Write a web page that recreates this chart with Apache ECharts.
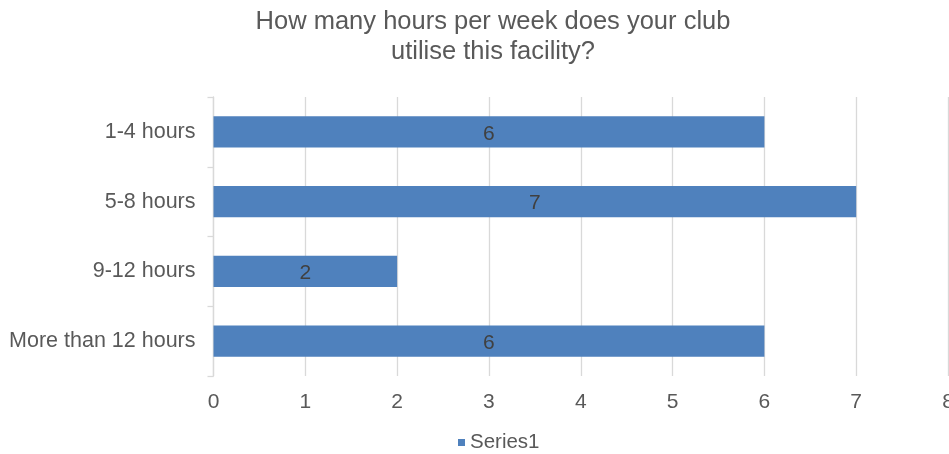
<!DOCTYPE html>
<html><head><meta charset="utf-8">
<script src="https://cdn.jsdelivr.net/npm/echarts@6/dist/echarts.min.js"></script>
<style>html,body{margin:0;padding:0;background:#fff}#c{width:949px;height:454px}</style>
</head><body><div id="c"></div>
<script>
const categories = ["1-4 hours", "5-8 hours", "9-12 hours", "More than 12 hours"];
const values = [6, 7, 2, 6];
const seriesName = "Series1";
const titleText = "How many hours per week does your club\nutilise this facility?";
const xMin = 0, xMax = 8, xInterval = 1;

const chart = echarts.init(document.getElementById('c'), null, {renderer: 'canvas'});
const font = 'Liberation Sans, Arial, Helvetica, sans-serif';
chart.setOption({
  animation: false,
  textStyle: {fontFamily: font},
  title: {
    text: titleText, left: 488, textAlign: 'center', top: 2,
    textStyle: {fontFamily: font, fontSize: 25.5, fontWeight: 'normal', color: '#595959', lineHeight: 30}
  },
  legend: {
    data: [seriesName], top: 427, left: 453, itemWidth: 7, itemHeight: 7, icon: 'rect',
    textStyle: {fontFamily: font, fontSize: 20.5, color: '#595959'}, itemGap: 6
  },
  grid: {left: 213.5, right: 1, top: 97, bottom: 78, containLabel: false, outerBoundsMode: 'none'},
  xAxis: {
    type: 'value', min: xMin, max: xMax, interval: xInterval,
    axisLine: {show: false}, axisTick: {show: false},
    splitLine: {show: true, lineStyle: {color: '#d9d9d9', width: 1.3}},
    axisLabel: {fontFamily: font, fontSize: 21, color: '#595959', margin: 16}
  },
  yAxis: {
    type: 'category', data: categories, inverse: true,
    axisLine: {show: true, lineStyle: {color: '#d9d9d9', width: 1.3}},
    axisTick: {show: true, length: 6, lineStyle: {color: '#d9d9d9', width: 1.3}},
    axisLabel: {fontFamily: font, fontSize: 21.5, color: '#595959', margin: 18, padding: [3, 0, 0, 0]}
  },
  series: [{
    name: seriesName, type: 'bar', data: values, barCategoryGap: '55%',
    itemStyle: {color: '#4F81BD'},
    label: {show: true, position: 'inside', offset: [0, 2], fontFamily: font, fontSize: 21, color: '#404040'}
  }]
});
</script></body></html>
